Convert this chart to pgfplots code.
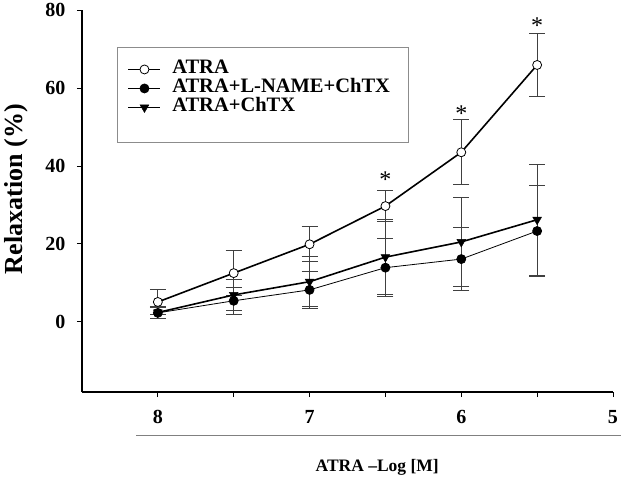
\documentclass[border=0pt]{standalone}
\usepackage{fontspec}
\setmainfont{Liberation Serif}
\usepackage{pgfplots}
\pgfplotsset{compat=1.18}

% ATRA
\pgfplotstableread{
x    y     e
8    5.1   3.1
7.5  12.5  5.8
7    19.9  4.5
6.5  29.7  3.9
6    43.5  8.3
5.5  65.9  8.0
}\atra
% ATRA+L-NAME+ChTX
\pgfplotstableread{
x    y     e
8    2.3   1.5
7.5  5.4   3.4
7    8.2   4.7
6.5  13.9  7.4
6    16.1  8.0
5.5  23.3  11.7
}\lname
% ATRA+ChTX
\pgfplotstableread{
x    y     e
8    2.4   1.5
7.5  6.9   4.0
7    10.3  6.4
6.5  16.6  9.6
6    20.5  11.5
5.5  26.2  14.2
}\chtx

\begin{document}
\begin{tikzpicture}
\useasboundingbox (-82pt,-88pt) rectangle (539pt,392pt);
\begin{axis}[
  at={(0,0)}, anchor=south west,
  scale only axis,
  width=531pt, height=382pt,
  x dir=reverse,
  xmin=5, xmax=8.5,
  ymin=-18, ymax=80,
  axis x line=bottom, axis y line=left,
  axis line style={-, line width=1.6pt},
  xtick={5,6,7,8},
  minor xtick={5.5,6.5,7.5},
  ytick={0,20,40,60,80},
  tick align=outside,
  major tick length=5pt, minor tick length=5pt,
  tick style={black, line width=0.8pt},
  /pgf/number format/assume math mode=true,
  tick label style={font=\fontsize{20}{22}\selectfont\bfseries},
  xticklabel style={yshift=-10pt},
  yticklabel style={xshift=-8pt},
  ylabel={Relaxation (\%)},
  ylabel style={at={(axis description cs:-0.124,0.531)}, anchor=center,
    font=\fontsize{26}{28}\selectfont\bfseries},
  xlabel={ATRA --Log [M]},
  xlabel style={at={(axis description cs:0.556,-0.196)}, anchor=center,
    font=\fontsize{17.5}{19}\selectfont\bfseries},
  clip=false,
  legend cell align=left,
  legend style={draw=none, fill=none,
    at={(axis description cs:0.080,0.875)}, anchor=north west,
    font=\fontsize{20.5}{22}\selectfont\bfseries,
    row sep=0pt,
    nodes={inner ysep=1pt, inner xsep=4pt, text height=13pt, text depth=4pt}},
  legend image code/.code={
    \draw[mark repeat=2, mark phase=2, #1]
      plot coordinates {(0pt,0pt) (16pt,0pt) (32pt,0pt)};
    \path (39pt,0pt);
  },
  error bars/error bar style={black!75, line width=1pt},
  error bars/error mark options={rotate=90, mark size=8pt, black!75, line width=1pt},
]

\addplot[black, line width=1.6pt, mark=*, mark size=4.5pt,
  mark options={fill=white, line width=0.8pt},
  error bars/.cd, y dir=both, y explicit]
  table[x=x, y=y, y error=e] {\atra};
\addlegendentry{ATRA}

\addplot[black, line width=0.8pt, mark=*, mark size=4.5pt,
  error bars/.cd, y dir=both, y explicit]
  table[x=x, y=y, y error=e] {\lname};
\addlegendentry{ATRA+L-NAME+ChTX}

\addplot[black, line width=1.6pt, mark=triangle*, mark size=5pt,
  mark options={rotate=180, line width=0.5pt},
  error bars/.cd, y dir=both, y explicit]
  table[x=x, y=y, y error=e] {\chtx};
\addlegendentry{ATRA+ChTX}

% legend frame
\draw[black!45, line width=0.8pt] (axis description cs:0.066,0.903) rectangle (axis description cs:0.614,0.654);

% significance marks
\node[font=\fontsize{24}{24}\selectfont] at (axis cs:6.5,36.6) {*};
\node[font=\fontsize{24}{24}\selectfont] at (axis cs:6,53.5) {*};
\node[font=\fontsize{24}{24}\selectfont] at (axis cs:5.5,76.0) {*};

% line under tick labels
\draw[black!50, line width=1pt] (axis description cs:0.102,-0.1126) -- (axis description cs:1.015,-0.1126);
\end{axis}
\end{tikzpicture}
\end{document}
